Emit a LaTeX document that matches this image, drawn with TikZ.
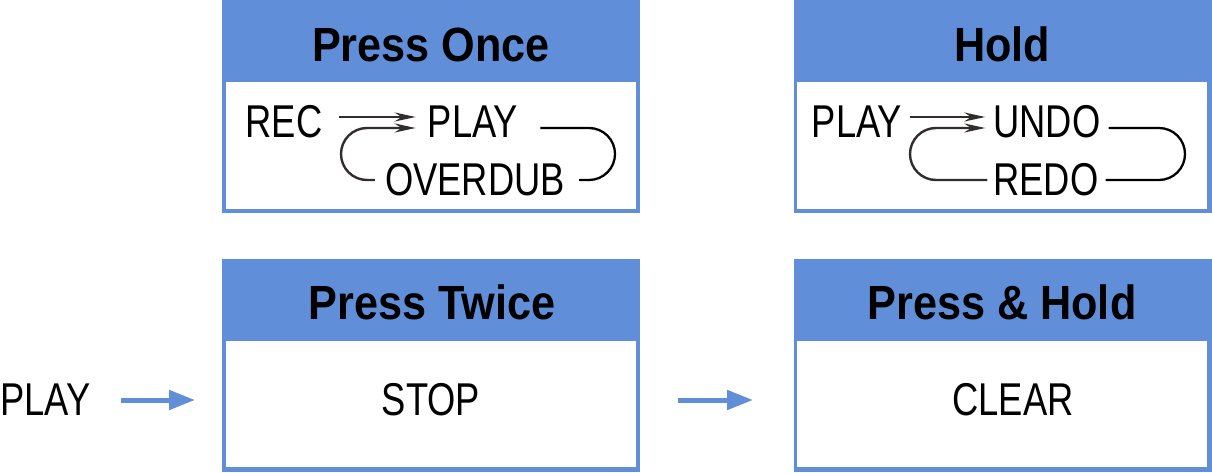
\documentclass[tikz,border=0pt]{standalone}
\usepackage{fontspec}
\setmainfont{Liberation Sans}[FakeStretch=0.79]
\newfontfamily\headfont{Liberation Sans}[FakeStretch=0.9]
\usetikzlibrary{arrows.meta,positioning}
\definecolor{panelblue}{RGB}{96,142,217}
\definecolor{arrowgray}{RGB}{50,45,45}

\tikzset{
  panel/.style={fill=panelblue, draw=none, inner sep=0pt, outer sep=0pt, minimum width=418pt, minimum height=213pt},
  head/.style={font=\headfont\bfseries\fontsize{48}{50}\selectfont, inner sep=0pt},
  word/.style={font=\fontsize{46}{48}\selectfont, inner sep=0pt},
  loopline/.style={draw=black, line width=2.3pt, rounded corners=26pt},
  flowarrow/.style={draw=arrowgray, line width=2.4pt, -{Stealth[length=21pt,width=9pt]}},
  bluearrow/.style={draw=panelblue, line width=5pt, -{Triangle[length=26pt,width=19pt]}}
}

\begin{document}
\begin{tikzpicture}[x=1pt,y=-1pt]
    \useasboundingbox (0,0) rectangle (1212,473);
    % Les quatre panneaux
    \node[panel] (once) at (430.5,106.5) {};
    \node[panel] (hold) at (1003,106.5) {};
    \node[panel] (twice) at (431,365.5) {};
    \node[panel] (presshold) at (1003,365.5) {};
    \fill[white] (226,82) rectangle (636,209);
    \fill[white] (797,82) rectangle (1207,209);
    \fill[white] (226,341) rectangle (636,467);
    \fill[white] (797,341) rectangle (1207,467);
    % Titres
    \node[head] (oncehead) at (431,44.5) {Press Once};
    \node[head] (holdhead) at (1002,44.5) {Hold};
    \node[head] (twicehead) at (432,302) {Press Twice};
    \node[head] (pressholdhead) at (1002,302) {Press \& Hold};
    % Press Once
    \node[word] (rec) at (284,122) {REC};
    \node[word] (play) at (473,122) {PLAY};
    \node[word] (overdub) at (475,180) {OVERDUB};
    \draw[flowarrow] ([xshift=16pt,yshift=5pt]rec.east) -- ([xshift=-12pt,yshift=5pt]play.west);
    \draw[flowarrow, rounded corners=26pt] ([xshift=-10pt]overdub.west) -- (341,180) -- (341,128) -- ([xshift=-12pt,yshift=-6pt]play.west);
    \draw[loopline] ([xshift=22pt,yshift=-6pt]play.east) -- (615,128) -- (615,180) -- ([xshift=14pt]overdub.east);
    % Hold
    \node[word] (holdplay) at (857,122) {PLAY};
    \node[word] (undo) at (1047,122) {UNDO};
    \node[word] (redo) at (1046,180) {REDO};
    \draw[flowarrow] ([xshift=8pt,yshift=5pt]holdplay.east) -- ([xshift=-8pt,yshift=5pt]undo.west);
    \draw[flowarrow, rounded corners=26pt] ([xshift=-6pt]redo.west) -- (910,180) -- (910,128) -- ([xshift=-8pt,yshift=-6pt]undo.west);
    \draw[loopline] ([xshift=8pt,yshift=-6pt]undo.east) -- (1185,128) -- (1185,180) -- ([xshift=7pt]redo.east);
    % Ligne du bas
    \node[word, anchor=west] (playin) at (0,400) {PLAY};
    \node[word] (stop) at (431,400) {STOP};
    \node[word] (clear) at (1013,400) {CLEAR};
    \draw[bluearrow, shorten <=30pt, shorten >=27pt] (playin.east) -- (playin.east -| twice.west);
    \draw[bluearrow, shorten <=38pt, shorten >=41pt] (twice.east |- stop) -- (presshold.west |- stop);
\end{tikzpicture}
\end{document}
